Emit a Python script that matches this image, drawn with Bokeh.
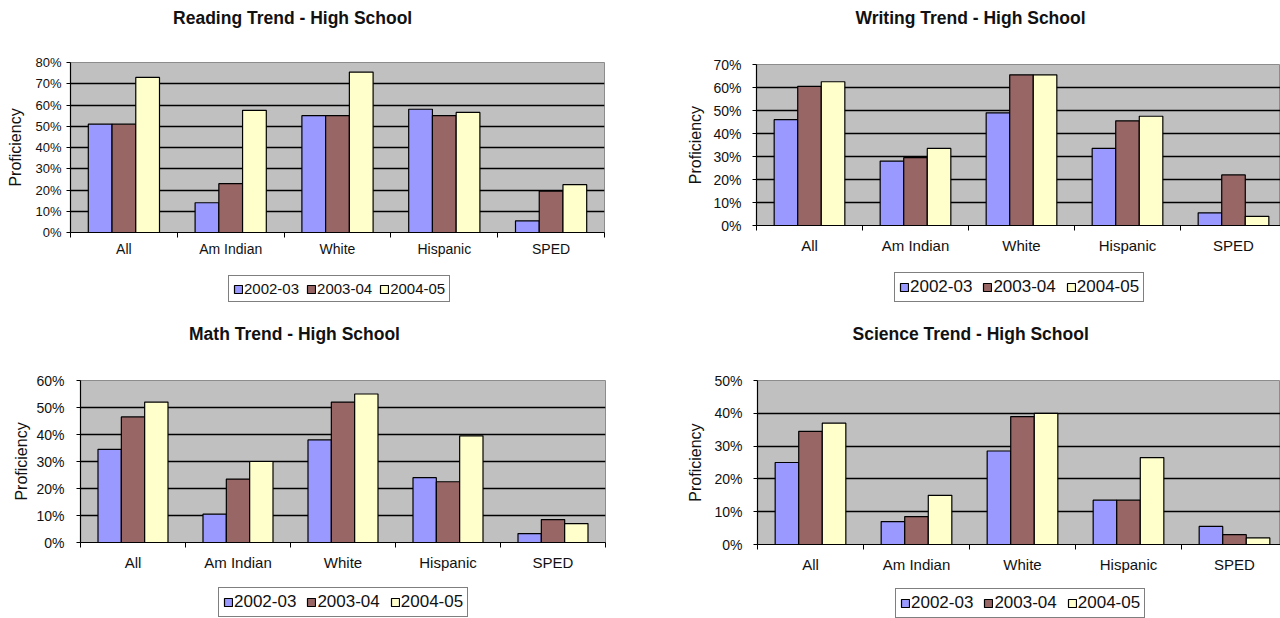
from bokeh.plotting import figure
from bokeh.layouts import column, row
from bokeh.models import (Range1d, FixedTicker, PrintfTickFormatter, Legend,
                          LegendItem, Label)
from bokeh.embed import file_html
from bokeh.resources import INLINE

# Student groups and school years
groups = ["All", "Am Indian", "White", "Hispanic", "SPED"]
years = ["2002-03", "2003-04", "2004-05"]
year_colors = ["#9999FF", "#996666", "#FFFFCC"]

# Percent proficient, one list per school year (order follows `groups`)
reading_0203 = [51, 14, 55, 58, 5.5]
reading_0304 = [51, 23, 55, 55, 19.5]
reading_0405 = [73, 57.5, 75.5, 56.5, 22.5]

writing_0203 = [46, 28, 49, 33.5, 5.5]
writing_0304 = [60.5, 29.5, 65.5, 45.5, 22]
writing_0405 = [62.5, 33.5, 65.5, 47.5, 4]

math_0203 = [34.5, 10.5, 38, 24, 3.3]
math_0304 = [46.5, 23.5, 52, 22.5, 8.5]
math_0405 = [52, 30, 55, 39.5, 7]

science_0203 = [25, 7, 28.5, 13.5, 5.5]
science_0304 = [34.5, 8.5, 39, 13.5, 3]
science_0405 = [37, 15, 40, 26.5, 2]

FONT = "Liberation Sans"
BAR_W = 1 / 4.5  # three bars per group, 150% gap between groups
PANEL_W, PANEL_H = 640, 309
HEAD_H = 40      # strip that carries the chart title
AXIS_H = 40      # space under the plot area for the group labels


def strip(height, left, fw):
    """A bare figure, aligned with the chart's plot area, for a title or legend."""
    f = figure(width=PANEL_W, height=height, x_range=Range1d(0, fw),
               y_range=Range1d(0, height), output_backend="svg",
               toolbar_location=None, x_axis_location=None,
               y_axis_location=None, title=None,
               min_border_left=left, min_border_right=PANEL_W - left - fw,
               min_border_top=0, min_border_bottom=0)
    f.outline_line_color = None
    f.grid.visible = False
    f.background_fill_color = "white"
    f.border_fill_color = "white"
    return f


def trend_panel(title, series, y_max, frame, x_end, st):
    left, top, fw, fh = frame

    # title strip
    head = strip(HEAD_H, left, fw)
    head.add_layout(Label(x=st["title_x"] - left, y=HEAD_H - st["title_y"],
                          text=title, text_align="center",
                          text_baseline="middle", text_font=FONT,
                          text_font_style="bold", text_font_size="17.5px",
                          text_color="#111111"))

    # chart body
    p = figure(frame_width=fw, frame_height=fh,
               x_range=Range1d(0, x_end), y_range=Range1d(0, y_max),
               output_backend="svg", toolbar_location=None, title=None,
               min_border_left=left, min_border_top=top - HEAD_H,
               min_border_right=PANEL_W - left - fw,
               min_border_bottom=AXIS_H)
    p.background_fill_color = "#C0C0C0"
    p.border_fill_color = "white"
    p.outline_line_color = "#8C8C8C"
    p.outline_line_width = 1

    for j, (vals, color) in enumerate(zip(series, year_colors)):
        xs = [i + 0.5 + (j - 1) * BAR_W for i in range(len(groups))]
        p.vbar(x=xs, top=vals, bottom=0, width=BAR_W,
               fill_color=color, line_color="black", line_width=1.2)

    # horizontal gridlines
    p.xgrid.visible = False
    p.ygrid.ticker = FixedTicker(ticks=list(range(10, y_max, 10)))
    p.ygrid.grid_line_color = "black"
    p.ygrid.grid_line_width = 1.3

    # y axis
    yax = p.yaxis[0]
    yax.ticker = FixedTicker(ticks=list(range(0, y_max + 1, 10)))
    yax.formatter = PrintfTickFormatter(format="%d%%")
    yax.axis_line_color = "black"
    yax.axis_line_width = 1.2
    yax.major_tick_line_color = "black"
    yax.major_tick_out = 4
    yax.major_tick_in = 0
    yax.minor_tick_line_color = None
    yax.major_label_standoff = st["ytick_standoff"]
    yax.major_label_text_font = FONT
    yax.major_label_text_font_size = st["ytick"]
    yax.major_label_text_color = "#111111"
    yax.axis_label = "Proficiency"
    yax.axis_label_text_font = FONT
    yax.axis_label_text_font_style = "normal"
    yax.axis_label_text_font_size = "16px"
    yax.axis_label_text_color = "#111111"
    yax.axis_label_standoff = st["ylabel_standoff"]

    # x axis: labels at group centres, tick marks between groups
    xax = p.xaxis[0]
    centers = [i + 0.5 for i in range(len(groups))]
    xax.ticker = FixedTicker(ticks=centers,
                             minor_ticks=list(range(len(groups) + 1)))
    xax.major_label_overrides = {c: g for c, g in zip(centers, groups)}
    xax.axis_line_color = "black"
    xax.axis_line_width = 1.2
    xax.major_tick_line_color = None
    xax.major_tick_out = 5
    xax.major_tick_in = 0
    xax.minor_tick_line_color = "black"
    xax.minor_tick_out = 5
    xax.minor_tick_in = 0
    xax.major_label_standoff = st["xtick_standoff"]
    xax.major_label_text_font = FONT
    xax.major_label_text_font_size = st["xtick"]
    xax.major_label_text_color = "#111111"

    # legend strip; the swatch renderers hold no drawable point
    foot_h = PANEL_H - top - fh - AXIS_H
    foot = strip(foot_h, left, fw)
    nan = float("nan")
    swatches = [foot.vbar(x=[nan], top=[nan], width=BAR_W, fill_color=c,
                          line_color="black", line_width=1.2)
                for c in year_colors]
    lx, ly = st["legend_loc"]
    foot.add_layout(Legend(
        items=[LegendItem(label=y, renderers=[r]) for y, r in zip(years, swatches)],
        orientation="horizontal", location=(lx - left, ly),
        border_line_color="black", border_line_width=1.5,
        background_fill_color="white", background_fill_alpha=1,
        padding=4, spacing=st["legend_spacing"], margin=0,
        glyph_width=10, glyph_height=10, label_standoff=1,
        label_text_font=FONT, label_text_font_size=st["legend"],
        label_text_color="#111111"))

    return column(head, p, foot, spacing=0)


reading = trend_panel(
    "Reading Trend -   High School",
    [reading_0203, reading_0304, reading_0405], 80,
    (70, 62, 534, 170), 5,
    dict(title_x=297, title_y=17, ytick="13px", ytick_standoff=5,
         ylabel_standoff=8, xtick="14px", xtick_standoff=3,
         legend="15px", legend_spacing=7, legend_loc=(228, 7)))
writing = trend_panel(
    "Writing Trend - High School",
    [writing_0203, writing_0304, writing_0405], 70,
    (116, 64, 524, 161), 524 / 106,
    dict(title_x=970 - 640, title_y=17, ytick="14px", ytick_standoff=11,
         ylabel_standoff=6, xtick="15px", xtick_standoff=6,
         legend="17px", legend_spacing=10, legend_loc=(894 - 640, 7)))
math = trend_panel(
    "Math Trend - High School",
    [math_0203, math_0304, math_0405], 60,
    (80, 71, 525, 162), 5,
    dict(title_x=294, title_y=24, ytick="14px", ytick_standoff=12,
         ylabel_standoff=3, xtick="15px", xtick_standoff=6,
         legend="17px", legend_spacing=10, legend_loc=(218, 1)))
science = trend_panel(
    "Science Trend -   High School",
    [science_0203, science_0304, science_0405], 50,
    (117, 71, 523, 164), 523 / 106,
    dict(title_x=975 - 640, title_y=24, ytick="14px", ytick_standoff=11,
         ylabel_standoff=7, xtick="15px", xtick_standoff=6,
         legend="17px", legend_spacing=10, legend_loc=(895 - 640, 0)))

layout = column(row(reading, writing, spacing=0),
                row(math, science, spacing=0), spacing=0)
open("out.html", "w").write(file_html(layout, INLINE))
